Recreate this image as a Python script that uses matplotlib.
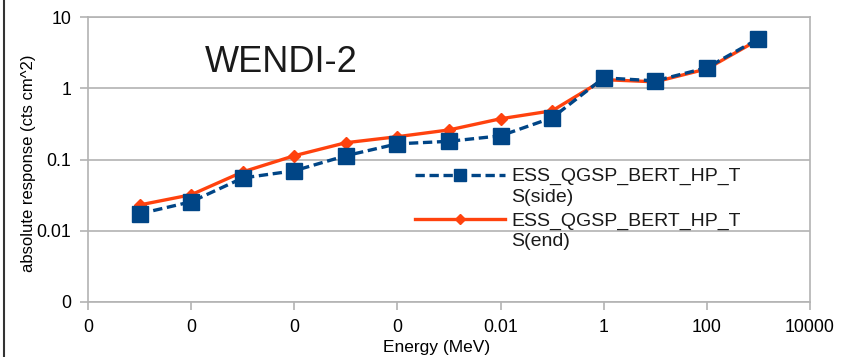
import matplotlib
matplotlib.use("Agg")
import matplotlib.pyplot as plt
from matplotlib.lines import Line2D
from matplotlib.legend_handler import HandlerLine2D
from matplotlib.transforms import Affine2D

plt.rcParams['font.family'] = ['Liberation Sans', 'DejaVu Sans']

# energia em MeV (uma decada por ponto)
energia = [1e-9, 1e-8, 1e-7, 1e-6, 1e-5, 1e-4, 1e-3, 1e-2, 1e-1, 1, 10, 100, 1000]
resp_side = [0.0173, 0.0255, 0.055, 0.0695, 0.113, 0.166, 0.18, 0.215, 0.385, 1.4, 1.27, 1.94, 4.95]
resp_end = [0.023, 0.032, 0.067, 0.113, 0.172, 0.209, 0.26, 0.373, 0.483, 1.32, 1.23, 1.87, 4.8]

x_ticks = [1e-10, 1e-8, 1e-6, 1e-4, 1e-2, 1, 100, 10000]
y_ticks = [0.001, 0.01, 0.1, 1, 10]

label_side = "ESS_QGSP_BERT_HP_T\nS(side)"
label_end = "ESS_QGSP_BERT_HP_T\nS(end)"


def fmt(v, _=None):
    # imita o formato da planilha: 2 casas, sem zeros finais
    return f"{v:.2f}".rstrip('0').rstrip('.')


class HandlerAlto(HandlerLine2D):
    # desenha o simbolo da legenda na altura da primeira linha do texto
    def create_artists(self, legend, orig_handle, xdescent, ydescent,
                       width, height, fontsize, trans):
        trans = trans + Affine2D().translate(0, 12)
        return super().create_artists(legend, orig_handle, xdescent, ydescent,
                                      width, height, fontsize, trans)


fig = plt.figure(figsize=(8.45, 3.57), dpi=100)
ax = fig.add_axes([88 / 845, 55 / 357, (810 - 88) / 845, (302 - 17) / 357])

ax.plot(energia, resp_end, color='#ff420e', linewidth=2.4, marker='D', markersize=6,
        label=label_end, zorder=3)
ax.plot(energia, resp_side, color='#004586', linewidth=2.4, linestyle=(0, (2.8, 1.4)),
        marker='s', markersize=11, label=label_side, zorder=4)

ax.set_xscale('log')
ax.set_yscale('log')
ax.set_xlim(1e-10, 1e4)
ax.set_ylim(0.001, 10)
ax.set_xticks(x_ticks)
ax.set_yticks(y_ticks)
ax.xaxis.set_major_formatter(plt.FuncFormatter(fmt))
ax.yaxis.set_major_formatter(plt.FuncFormatter(fmt))
ax.minorticks_off()

ax.grid(True, axis='y', color='#b3b3b3', linewidth=1.2)
for sp in ax.spines.values():
    sp.set_color('#b3b3b3')
    sp.set_linewidth(1.2)
ax.tick_params(axis='both', direction='out', color='#b3b3b3', width=1.2, length=6,
               labelsize=12.8, pad=6)

ax.set_xlabel("Energy (MeV)", fontsize=12.5)
ax.set_ylabel("absolute response (cts cm^2)", fontsize=12)
ax.yaxis.set_label_coords(-0.072, 0.486)
ax.xaxis.set_label_coords(0.483, -0.133)
ax.xaxis.label.set_va('top')

ax.text(0.268, 0.84, "WENDI-2", transform=ax.transAxes, fontsize=26,
        ha='center', va='center', color='#1a1a1a')

handles, labels = ax.get_legend_handles_labels()
leg = ax.legend(handles[::-1], labels[::-1], loc='upper left',
                bbox_to_anchor=(415 / 845, 1 - 168 / 357), bbox_transform=fig.transFigure,
                frameon=False, fontsize=14, handlelength=4.65, handletextpad=0.3,
                labelspacing=0.35, borderpad=0, borderaxespad=0, markerscale=0.85,
                handler_map={Line2D: HandlerAlto()})
for t in leg.get_texts():
    t.set_linespacing(1.28)
    t.set_color('#1a1a1a')

# borda esquerda da imagem
fig.add_artist(Line2D([4 / 845, 4 / 845], [0, 1], color='#333333', linewidth=1.5))

plt.savefig("out.png", dpi=100)
